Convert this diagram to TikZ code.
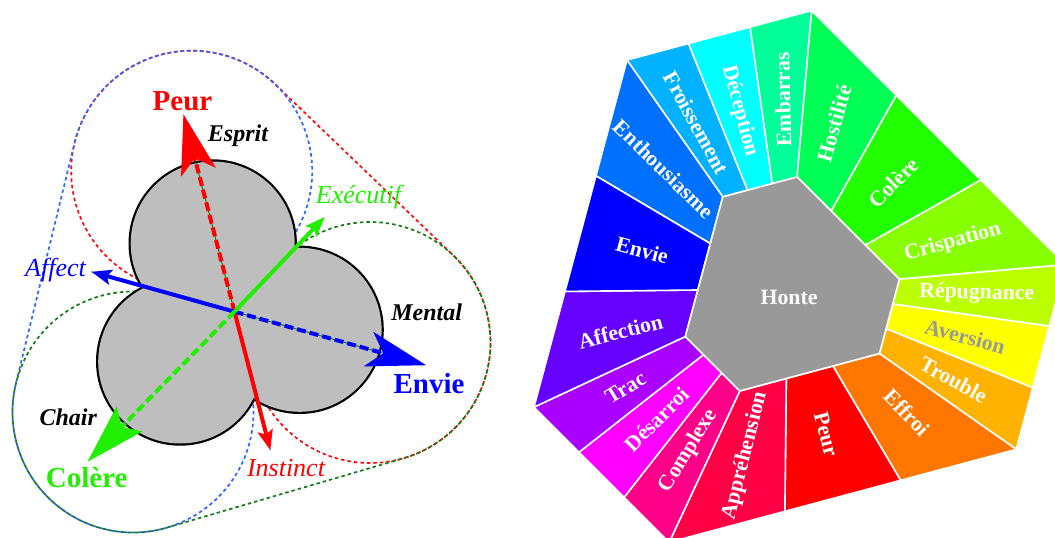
\documentclass[tikz,border=0pt]{standalone}
\usepackage{fontspec}
\setmainfont{Liberation Serif}
\usetikzlibrary{calc,arrows.meta}

\definecolor{cEnth}{RGB}{0,112,255}
\definecolor{cFroi}{RGB}{0,178,255}
\definecolor{cDece}{RGB}{0,255,255}
\definecolor{cEmba}{RGB}{0,255,153}
\definecolor{cHost}{RGB}{0,255,85}
\definecolor{cCole}{RGB}{34,255,0}
\definecolor{cCris}{RGB}{136,255,0}
\definecolor{cRepu}{RGB}{187,255,0}
\definecolor{cAver}{RGB}{255,255,0}
\definecolor{cTrou}{RGB}{255,179,0}
\definecolor{cEffr}{RGB}{255,119,0}
\definecolor{cPeur}{RGB}{255,0,0}
\definecolor{cAppr}{RGB}{255,0,68}
\definecolor{cComp}{RGB}{255,0,136}
\definecolor{cDesa}{RGB}{255,0,255}
\definecolor{cTrac}{RGB}{170,0,255}
\definecolor{cAffe}{RGB}{102,0,255}
\definecolor{cEnvi}{RGB}{0,0,255}
\definecolor{cHonte}{RGB}{153,153,153}
\definecolor{cGrayTxt}{RGB}{153,153,153}
\definecolor{cDisk}{RGB}{190,190,190}
\definecolor{lRed}{RGB}{255,0,0}
\definecolor{lBlue}{RGB}{0,0,255}
\definecolor{lGreen}{RGB}{34,238,0}
\definecolor{dGreen}{RGB}{0,128,0}
\definecolor{loopRed}{RGB}{255,10,10}
\definecolor{loopBlue}{RGB}{50,100,255}
\definecolor{loopGreen}{RGB}{20,125,20}

\begin{document}
\begin{tikzpicture}[x=1pt,y=1pt,
  wlbl/.style={font=\bfseries\fontsize{21.8}{22}\selectfont, inner sep=0pt},
  sectorfill/.style={draw=white, line width=1.6pt, line join=round},
  loopline/.style={line width=1.7pt, dash pattern=on 3.5pt off 3pt},
  thickfour/.style={line width=4pt},
  dashthick/.style={line width=4pt, dash pattern=on 9pt off 4pt},
  thinaxis/.style={dGreen, line width=0.9pt},
  biglbl/.style={font=\bfseries\fontsize{29}{30}\selectfont, anchor=base, inner sep=0pt},
  bilbl/.style={font=\bfseries\itshape\fontsize{24}{25}\selectfont, anchor=base, inner sep=0pt},
  itlbl/.style={font=\itshape\fontsize{26}{27}\selectfont, anchor=base, inner sep=0pt},
  smallhead/.style={-{Stealth[length=20pt,width=15pt,inset=4pt]}}
]
\useasboundingbox (0,0) rectangle (1055,-538);
\clip (0,0) rectangle (1055,-538);

% ---------------- wheel ----------------
\coordinate (W) at (787.3,-289);
\foreach \ang in {5,85,125,205,245,325}{
  \coordinate (i\ang) at ($(W)+(\ang:112.5)$);
  \coordinate (o\ang) at ($(W)+(\ang:279.5)$);
}
\foreach \a/\b/\fa/\fb/\fm/\col/\txt/\tc/\dir/\nm in {
 125/85/0/0.3333/0.1667/cFroi/Froissement/white/1/sFroi,
 125/85/0.3333/0.6667/0.5/cDece/Déception/white/1/sDece,
 125/85/0.6667/1/0.8333/cEmba/Embarras/white/0/sEmba,
 85/5/0/0.3333/0.1667/cHost/Hostilité/white/0/sHost,
 85/5/0.3333/0.6667/0.5/cCole/Colère/white/0/sCole,
 85/5/0.6667/1/0.8333/cCris/Crispation/white/0/sCris,
 5/325/0/0.3333/0.1667/cRepu/Répugnance/white/0/sRepu,
 5/325/0.3333/0.6667/0.5/cAver/Aversion/cGrayTxt/0/sAver,
 5/325/0.6667/1/0.8333/cTrou/Trouble/white/0/sTrou,
 325/245/0/0.3333/0.1667/cEffr/Effroi/white/0/sEffr,
 325/245/0.3333/0.6667/0.5/cPeur/Peur/white/0/sPeur,
 325/245/0.6667/1/0.8333/cAppr/Appréhension/white/1/sAppr,
 245/205/0/0.3333/0.1667/cComp/Complexe/white/1/sComp,
 245/205/0.3333/0.6667/0.5/cDesa/Désarroi/white/1/sDesa,
 245/205/0.6667/1/0.8333/cTrac/Trac/white/1/sTrac,
 205/125/0/0.3333/0.1667/cAffe/Affection/white/1/sAffe,
 205/125/0.3333/0.6667/0.5/cEnvi/Envie/white/1/sEnvi,
 205/125/0.6667/1/0.8333/cEnth/Enthousiasme/white/1/sEnth}{
  \fill[\col, sectorfill] ($(i\a)!\fa!(i\b)$) -- ($(i\a)!\fb!(i\b)$)
     -- ($(o\a)!\fb!(o\b)$) -- ($(o\a)!\fa!(o\b)$) -- cycle;
  \coordinate (im) at ($(i\a)!\fm!(i\b)$);
  \coordinate (om) at ($(o\a)!\fm!(o\b)$);
  \ifnum\dir=0
    \path (im) -- node[wlbl, text=\tc, sloped, allow upside down] (\nm) {\txt} (om);
  \else
    \path (om) -- node[wlbl, text=\tc, sloped, allow upside down] (\nm) {\txt} (im);
  \fi
}
\filldraw[fill=cHonte, draw=white, line width=1.6pt, line join=round]
  (i125) -- (i85) -- (i5) -- (i325) -- (i245) -- (i205) -- cycle;
\node[wlbl, text=white] (honte) at (789,-297) {Honte};

% ---------------- left figure ----------------
\coordinate (T) at (191.7,-171.2);
\coordinate (R) at (370,-342.5);
\coordinate (B) at (133,-412);
\draw[loopline, loopRed] ($(T)+(250:120.5)$) arc[start angle=250, end angle=46.1, radius=120.5]
   -- ($(R)+(46.1:120.5)$) arc[start angle=46.1, end angle=-150, radius=120.5] -- cycle;
\draw[loopline, loopBlue, dash phase=3pt] ($(T)+(-38:120.5)$) arc[start angle=-38, end angle=166.3, radius=120.5]
   -- ($(B)+(166.3:120.5)$) arc[start angle=166.3, end angle=372, radius=120.5] -- cycle;
\draw[loopline, loopGreen] ($(R)+(135:120.5)$) arc[start angle=135, end angle=-73.7, radius=120.5]
   -- ($(B)+(-73.7:120.5)$) arc[start angle=-73.7, end angle=-280, radius=120.5] -- cycle;

\coordinate (dT) at (212.7,-243.5);
\coordinate (dR) at (299.6,-329.8);
\coordinate (dB) at (180.2,-361.5);
\foreach \c in {dT,dR,dB} \draw[black, line width=4.4pt] (\c) circle[radius=82];
\foreach \c in {dT,dR,dB} \fill[cDisk] (\c) circle[radius=82];

\coordinate (O) at (234.5,-311.7);
\coordinate (peurE) at ($(O)+(104.5:158.5)$);
\coordinate (envieE) at ($(O)+(-15.6:154.5)$);
\coordinate (colE) at ($(O)+(225.6:161)$);
\coordinate (instT) at ($(O)+(-75.5:143)$);
\coordinate (affT) at ($(O)+(164.4:148.5)$);
\coordinate (execT) at ($(O)+(46.4:131)$);

\draw[thinaxis] (affT) -- (envieE);
\draw[thinaxis] (peurE) -- (instT);
\draw[dashthick, lRed] (O) -- (peurE);
\draw[thickfour, lRed, smallhead] (O) -- (instT);
\draw[dashthick, lBlue] (O) -- (envieE);
\draw[thickfour, lBlue, smallhead] (O) -- (affT);
\draw[dashthick, lGreen] (O) -- (colE);
\draw[thickfour, lGreen, smallhead] (O) -- (execT);

\fill[lRed] ($(O)+(104.5:204)$) -- ($(O)+(104.5:144)+(14.5:18)$) -- (peurE)
   -- ($(O)+(104.5:144)+(194.5:18)$) -- cycle;
\fill[lBlue] ($(O)+(-15.6:199)$) -- ($(O)+(-15.6:139)+(74.4:18)$) -- (envieE)
   -- ($(O)+(-15.6:139)+(-105.6:18)$) -- cycle;
\fill[lGreen] ($(O)+(225.6:210)$) -- ($(O)+(225.6:150)+(135.6:18)$) -- (colE)
   -- ($(O)+(225.6:150)+(315.6:18)$) -- cycle;

\node[biglbl, text=lRed] (tPeur) at (182.5,-110) {Peur};
\node[bilbl] (tEsprit) at (238,-141.5) {Esprit};
\node[itlbl, text=lGreen] (tExec) at (358.5,-203) {Exécutif};
\node[itlbl, text=lBlue] (tAffect) at (55.5,-276.5) {Affect};
\node[bilbl] (tMental) at (426.7,-320.7) {Mental};
\node[biglbl, text=lBlue] (tEnvie) at (429,-393) {Envie};
\node[bilbl] (tChair) at (68.3,-425) {Chair};
\node[biglbl, text=lGreen] (tColere) at (86.7,-487) {Colère};
\node[itlbl, text=lRed] (tInst) at (286,-476) {Instinct};
\end{tikzpicture}
\end{document}
